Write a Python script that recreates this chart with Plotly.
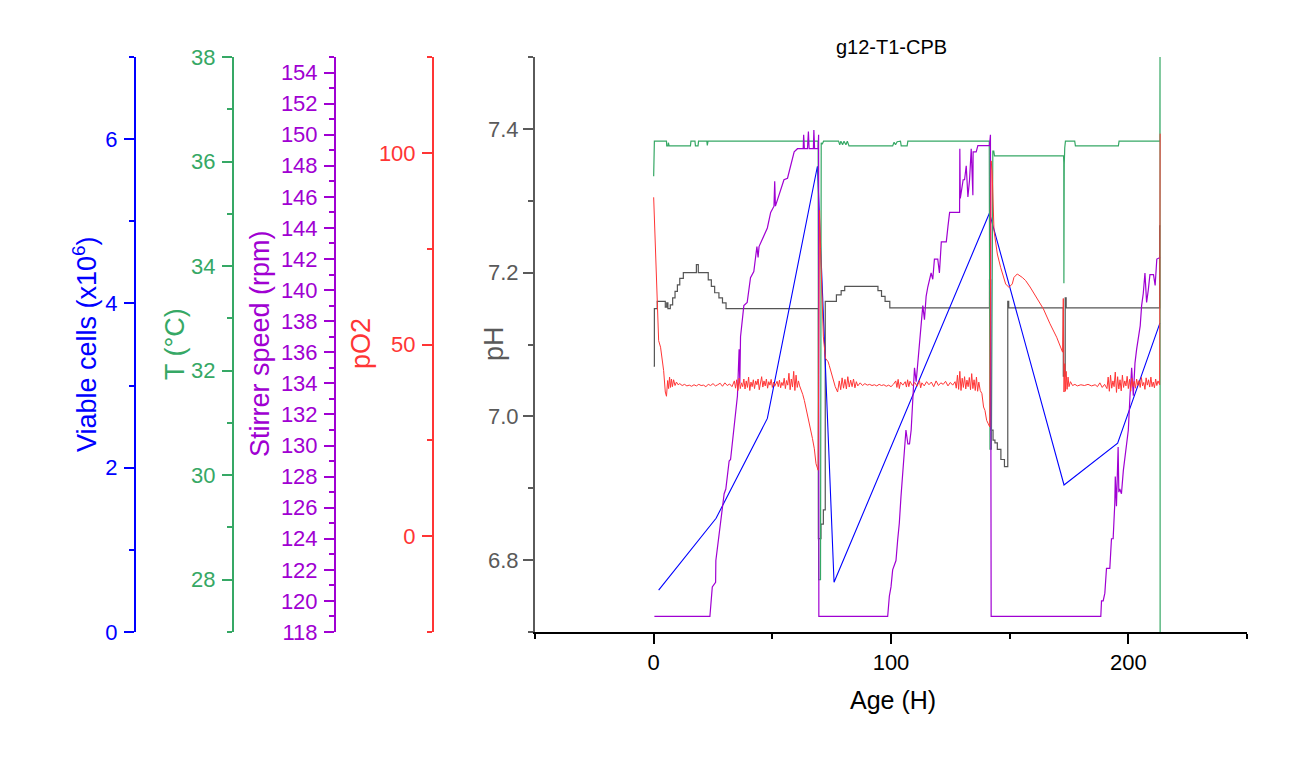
import plotly.graph_objects as go

# ---------------- data ----------------
# Viable cells (x10^6)
cells_h = [2.1, 26.3, 47.9, 69.0, 76.0, 141.5, 172.9, 195.5, 213.3]
cells_v = [0.51, 1.385, 2.60, 5.67, 0.605, 5.10, 1.79, 2.30, 3.76]

# Temperature (°C)
temp_h = [0, 0.3, 5.4, 5.5, 6.0, 6.2, 6.5, 15.5, 15.7, 17.4, 17.6, 18.7, 18.9, 22.4, 22.6, 22.9,
          69.3, 69.5, 70.3, 70.6, 71.0, 71.3, 71.6, 77.9, 78.4, 78.9, 79.6, 80.2, 81.0, 81.6, 82.3, 83.5,
          100.7, 101.3, 101.9, 102.6, 103.2, 104.0, 104.3, 106.8, 107.1,
          141.4, 141.7, 142.3, 142.9, 143.3, 143.6, 172.7, 172.8, 172.85, 173.0, 173.2, 173.5,
          177.4, 177.7, 195.8, 196.1, 213.3, 213.35, 213.4]
temp_v = [35.72, 36.39, 36.39, 36.30, 36.30, 36.36, 36.30, 36.30, 36.39, 36.39, 36.30, 36.30, 36.39, 36.39, 36.31, 36.39,
          36.39, 28.0, 28.0, 36.36, 36.33, 36.36, 36.39, 36.39, 36.32, 36.39, 36.32, 36.39, 36.32, 36.39, 36.30, 36.30,
          36.30, 36.37, 36.32, 36.38, 36.39, 36.39, 36.30, 36.30, 36.39,
          36.39, 30.5, 30.5, 36.20, 36.20, 36.11, 36.11, 35.98, 33.67, 35.95, 36.26, 36.39,
          36.39, 36.30, 36.30, 36.39, 36.39, 38.0, 26.0]

# Stirrer speed (rpm)
stir_h = [0.3, 23.7, 24.7, 26.1, 26.2, 28.2, 29.7, 30.4, 31.8, 32.4, 33.9, 35.3, 36.0, 36.3, 36.6,
          38.0, 39.4, 40.8, 42.2, 43.5, 44.0, 44.4, 47.9, 49.3, 50.7, 51.0, 51.3, 54.9, 56.4, 57.8,
          59.2, 60.6, 63.0, 63.2, 63.5, 64.8, 65.2, 65.5, 67.3, 67.5, 67.8, 69.3, 69.5, 69.6,
          98.6, 99.3, 100.0, 100.7, 102.1, 102.8, 103.5, 104.2, 104.9, 105.6, 106.3, 107.1, 107.8,
          108.5, 109.9, 110.6, 111.3, 112.0, 113.4, 114.1, 114.8, 115.5, 116.9, 117.6, 118.3, 119.7,
          120.4, 121.2, 123.3, 124.0, 124.7, 128.9, 129.0, 129.2, 130.4, 131.0, 131.7, 132.4, 133.1,
          133.8, 134.5, 134.6, 135.9, 136.6, 141.5, 141.9, 142.2,
          188.4, 188.7, 189.4, 190.1, 190.8, 192.2, 192.9, 193.6, 194.3, 194.5, 194.7, 195.0, 195.7,
          196.0, 196.4, 197.1, 197.9, 198.6, 200.0, 200.7, 201.4, 202.1, 202.8, 203.5, 204.2, 205.0,
          205.6, 206.3, 207.0, 207.7, 208.4, 209.1, 210.6, 211.3, 212.0, 213.4]
stir_v = [119.0, 119.0, 120.9, 121.2, 122.6, 125.1, 126.9, 127.2, 129.0, 129.1, 131.2, 133.2, 136.2, 134.0, 137.0,
          139.0, 139.2, 140.8, 141.2, 142.8, 142.1, 142.8, 144.0, 145.0, 145.4, 147.0, 145.4, 147.1, 147.2, 148.0,
          148.9, 149.1, 149.1, 150.0, 149.1, 149.1, 150.2, 149.1, 149.1, 150.3, 149.1, 149.1, 150.0, 119.0,
          119.0, 120.3, 120.9, 122.0, 122.6, 123.9, 125.0, 126.7, 128.2, 129.3, 131.0, 130.1, 130.1,
          131.0, 135.0, 134.1, 135.3, 136.8, 139.0, 138.1, 139.6, 140.2, 141.1, 140.7, 142.0, 142.0,
          141.1, 143.1, 143.1, 144.1, 145.0, 145.0, 149.1, 145.9, 147.1, 147.1, 148.0, 146.0, 147.1,
          149.1, 146.1, 148.9, 148.9, 149.3, 149.3, 150.0, 119.0,
          119.0, 120.0, 120.0, 120.5, 122.1, 122.1, 124.0, 124.0, 126.3, 128.0, 126.3, 126.1, 129.9,
          127.0, 127.2, 126.9, 128.4, 129.3, 131.0, 133.2, 135.0, 133.2, 135.3, 136.2, 136.8, 137.7,
          139.0, 139.8, 141.1, 139.2, 140.0, 141.0, 141.0, 140.3, 142.0, 142.1]

# pO2
po2_h = [0.0, 0.7, 1.4, 2.1, 2.9, 4.2, 4.9, 5.4, 5.9, 6.3, 6.7, 7.1, 7.5, 7.9, 8.4, 9.0, 9.6, 10.3, 11, 12,
         13, 14, 15, 16, 17, 18, 19, 20, 21, 22, 23, 24, 25, 26, 27, 28, 29, 30, 31, 32, 33, 34, 34.5, 35,
         35.5, 36, 36.5, 37, 37.5, 38, 38.5, 39, 39.5, 40, 40.5, 41, 41.5, 42, 42.5, 43, 43.5, 44, 44.5,
         45, 45.5, 46, 46.5, 47, 47.5, 48, 48.5, 49, 49.5, 50, 50.5, 51, 52, 52.5, 53, 53.5, 54, 54.5, 55,
         55.5, 56, 56.5, 57, 57.5, 58, 58.5, 59, 59.5, 60, 60.5, 61, 61.5, 62, 62.8, 63.5, 64.2, 65, 65.7,
         66.2, 66.9, 67.7, 68.4, 69.3,
         69.9, 70.3, 70.9, 71.5, 72.4, 73.5, 74.0, 75.4, 76.5, 77.5, 78.2, 78.8, 79.4, 80, 80.6, 81.2, 81.8,
         82.4, 83, 83.6, 84.2, 84.8, 85.4, 86, 87, 88, 89, 90, 91, 92, 93, 94, 95, 96, 97, 98, 99, 100,
         101, 102, 102.5, 103, 103.5, 104, 105, 106, 106.5, 107, 107.5, 108, 109, 110, 111, 112, 112.5,
         113, 114, 115, 116, 117, 118, 119, 120, 121, 122, 123, 124, 125, 126, 127, 127.5, 128, 128.5,
         129, 129.5, 130, 130.5, 131, 131.5, 132, 132.5, 133, 133.5, 134, 134.5, 135, 135.5, 136, 136.5,
         137, 137.6, 138.3, 139, 139.6, 140.3, 141, 141.6,
         142.2, 142.6, 143.4, 144.8, 146.2, 148.3, 149.7, 151.1, 151.8, 153.2, 155.3, 156.7, 158.6, 161.4,
         164.2, 167, 169.8, 172.3,
         172.6, 172.9, 173.2, 173.5, 173.8, 174.2, 174.6, 175, 175.6, 176.5, 177.5, 178.5, 180, 181.5, 183,
         184.5, 186, 187, 188, 189, 190, 191, 191.5, 192, 192.5, 193, 193.5, 194, 194.5, 195, 195.5, 196,
         196.5, 197, 197.5, 198, 198.5, 199, 199.5, 200, 200.5, 201, 201.5, 202, 202.5, 203, 203.5, 204,
         204.5, 205, 205.5, 206, 206.5, 207, 207.5, 208, 208.5, 209, 209.5, 210, 210.5, 211, 211.5, 212,
         212.5, 213.2, 213.4]
po2_v = [88.4, 77, 61.5, 51, 49.3, 43.2, 37.6, 36.5, 40.6, 38.5, 41.5, 38.8, 41.0, 39.0, 40.8, 39.3, 40.2, 39.5, 39.8, 39.3,
         39.6, 39.2, 39.4, 39.1, 39.5, 39.2, 39.6, 39.3, 39.4, 39.0, 39.6, 39.3, 39.8, 39.2, 39.5, 39.9, 39.1, 40.0, 39.3, 39.7, 39.0, 40.5, 38.6, 40.8,
         38.0, 41.2, 38.5, 40.0, 39.0, 41.0, 38.4, 40.5, 38.8, 41.5, 38.0, 40.2, 39.0, 40.8, 38.5, 40.5, 39.5, 41.0, 38.2,
         39.8, 41.6, 38.9, 40.5, 39.2, 41.0, 38.6, 40.3, 39.4, 40.9, 38.8, 40.2, 39.1, 40.4, 39.0, 40.7, 38.7, 40.1, 39.3, 41.2,
         38.5, 40.6, 39.4, 42.5, 38.2, 41.0, 38.9, 43.0, 38.0, 42.0, 38.8, 40.5, 39.2, 38.5, 37.0, 35.4, 33.5, 31.1, 29.0,
         27.6, 25.5, 22.8, 18.9, 17.2,
         85, 75, 60, 52, 46.4, 45.5, 44.5, 41.5, 39.0, 37.6, 40.5, 38.2, 41.3, 38.6, 40.9, 38.4, 41.6,
         38.9, 40.7, 39.0, 41.0, 38.7, 40.3, 39.2, 40.0, 39.3, 39.8, 39.4, 39.6, 39.3, 39.5, 39.2, 39.6, 39.3, 39.5, 39.1, 39.4, 39.0,
         39.6, 40.5, 38.8, 40.9, 38.5, 40.2, 39.4, 40.3, 38.9, 40.8, 39.0, 40.4, 39.3, 40.1, 39.1, 40.6, 38.7,
         40.0, 39.2, 40.3, 39.5, 40.2, 39.0, 40.5, 39.3, 40.0, 39.6, 40.4, 39.2, 40.1, 39.4, 40.3, 38.6, 42.0, 38.3,
         43.0, 38.0, 41.2, 38.8, 41.6, 38.4, 40.7, 39.0, 41.4, 38.2, 42.4, 38.5, 40.8, 38.0, 41.5, 37.8,
         40.2, 38.0, 37.2, 33.7, 32.8, 30.2, 29.3, 28.5,
         97.9, 95.3, 79.7, 73.6, 70.1, 65.8, 64.9, 65.8, 67.5, 68.4, 67.5, 66.7, 65.0, 62.3,
         59.3, 55.4, 51.9, 48.0,
         62.0, 37.6, 45.0, 37.8, 43.0, 38.3, 41.5, 39.0, 40.3, 39.3, 39.6, 39.2, 39.5, 39.3, 39.6,
         39.2, 39.5, 39.0, 40.0, 38.8, 39.6, 38.5, 41.5, 37.8, 42.0, 38.6, 40.5, 39.0, 42.8, 37.5, 41.6, 38.4,
         40.8, 37.9, 42.0, 38.8, 40.5, 39.2, 41.7, 38.5, 40.9, 37.8, 41.2, 39.0, 40.4, 38.6, 41.0, 39.3,
         40.6, 38.8, 41.4, 39.2, 40.1, 38.3, 41.3, 39.4, 40.8, 38.9, 41.5, 39.0, 40.2, 38.7, 41.0, 39.3,
         40.5, 39.5, 105.0]

# pH (stepwise logger values)
ph_h = [0, 0.3, 1.5, 4.9, 5.5, 6.0, 7.0, 8.0, 9.0, 10.0, 11.0, 12.5, 18.0, 18.8, 23.0, 24.3, 25.7, 27.5,
        29.0, 30.5, 69.4, 70.5, 71.5, 72.3, 77.0, 79.0, 80.5, 94.5, 96.0, 97.5, 99.5, 141.5, 142.0,
        143.0, 143.8, 144.8, 146.3, 147.8, 149.2, 149.6, 172.6, 173.4, 173.8, 213.2, 213.5]
ph_v = [7.07, 7.150, 7.160, 7.152, 7.158, 7.150, 7.155, 7.165, 7.174, 7.183, 7.192, 7.200, 7.211, 7.200,
        7.190, 7.181, 7.172, 7.165, 7.158, 7.150, 6.830, 6.850, 6.870, 7.160, 7.169, 7.175, 7.181, 7.175,
        7.167, 7.160, 7.151, 7.190, 6.981, 6.967, 6.963, 6.954, 6.940, 6.930, 7.160, 7.151, 7.056, 7.165,
        7.151, 7.265, 7.265]

# ---------------- styling ----------------
FONT = "Arial, Liberation Sans, sans-serif"
W, H = 1307, 759
ML, MR, MT, MB = 0, 0, 57, 127
C_BLUE = "#0000ff"
C_GREEN = "#36a865"
C_PURPLE = "#a000d2"
C_RED = "#ff3535"
C_GRAY = "#555555"
C_PHAX = "#5a5a5a"
TICK_SIZE = 22
TITLE_SIZE = 27


def px_x(px):
    return px / W


def px_y(py):
    return (H - MB - py) / (H - MT - MB)


fig = go.Figure()
fig.add_trace(go.Scatter(x=stir_h, y=stir_v, mode="lines", yaxis="y4",
                         line=dict(color=C_PURPLE, width=1.2), name="Stirrer speed"))
fig.add_trace(go.Scatter(x=ph_h, y=ph_v, mode="lines", yaxis="y",
                         line=dict(color=C_GRAY, width=1.2, shape="hv"), name="pH"))
fig.add_trace(go.Scatter(x=po2_h, y=po2_v, mode="lines", yaxis="y5",
                         line=dict(color=C_RED, width=1), name="pO2"))
fig.add_trace(go.Scatter(x=temp_h, y=temp_v, mode="lines", yaxis="y3",
                         line=dict(color=C_GREEN, width=1.2), name="T"))
fig.add_trace(go.Scatter(x=cells_h, y=cells_v, mode="lines", yaxis="y2",
                         line=dict(color=C_BLUE, width=1.1), name="Viable cells"))


def yax(color, rng, tick0, dtick, mtick0, mdtick, pos=None, fmt=None, standoff=2):
    d = dict(range=rng, showline=True, linecolor=color, linewidth=2, ticks="outside",
             ticklen=10, tickwidth=2, tickcolor=color, tick0=tick0, dtick=dtick,
             tickfont=dict(family=FONT, size=TICK_SIZE, color=color), showgrid=False, zeroline=False,
             automargin=False, ticklabelstandoff=standoff,
             minor=dict(ticks="outside", ticklen=5, tickwidth=2, tickcolor=color,
                        tick0=mtick0, dtick=mdtick, showgrid=False))
    if pos is not None:
        d.update(anchor="free", position=pos, overlaying="y", side="left")
    if fmt:
        d["tickformat"] = fmt
    return d


fig.update_layout(
    width=W, height=H, margin=dict(l=ML, r=MR, t=MT, b=MB),
    paper_bgcolor="white", plot_bgcolor="white", template="none", showlegend=False,
    font=dict(family=FONT),
    xaxis=dict(domain=[px_x(535), px_x(1247)], range=[-50, 250], showline=True, linecolor="black",
               linewidth=2, ticks="outside", ticklen=10, tickwidth=2, tickcolor="black",
               tick0=0, dtick=100, tickfont=dict(family=FONT, size=TICK_SIZE, color="black"),
               showgrid=False, zeroline=False, automargin=False, anchor="y",
               minor=dict(ticks="outside", ticklen=5, tickwidth=2, tickcolor="black",
                          tick0=-50, dtick=50, showgrid=False)),
    yaxis=yax(C_PHAX, [6.7, 7.5], 6.8, 0.2, 6.7, 0.1, fmt=".1f", standoff=0) | dict(anchor="x", side="left"),
    yaxis2=yax(C_BLUE, [0, 7], 0, 2, 0, 1, pos=px_x(135)),
    yaxis3=yax(C_GREEN, [27, 38], 28, 2, 27, 1, pos=px_x(233)),
    yaxis4=yax(C_PURPLE, [118, 155], 118, 2, 118, 1, pos=px_x(335)),
    yaxis5=yax(C_RED, [-25, 125], 0, 50, -25, 25, pos=px_x(433)),
)

titles = [
    ("Viable cells (x10<sup>6</sup>)", 85, C_BLUE),
    ("T (°C)", 175, C_GREEN),
    ("Stirrer speed (rpm)", 260, C_PURPLE),
    ("pO2", 361, C_RED),
    ("pH", 494, C_PHAX),
]
for txt, xp, col in titles:
    fig.add_annotation(text=txt, x=px_x(xp), y=px_y(344), xref="paper", yref="paper",
                       textangle=-90, showarrow=False, xanchor="center", yanchor="middle",
                       font=dict(family=FONT, size=TITLE_SIZE, color=col))

fig.add_annotation(text="Age (H)", x=px_x(893), y=px_y(700), xref="paper", yref="paper",
                   showarrow=False, xanchor="center", yanchor="middle",
                   font=dict(family=FONT, size=25, color="black"))
fig.add_annotation(text="g12-T1-CPB", x=px_x(891), y=px_y(47), xref="paper", yref="paper",
                   showarrow=False, xanchor="center", yanchor="middle",
                   font=dict(family=FONT, size=20, color="black"))

fig.write_html("out.html")
